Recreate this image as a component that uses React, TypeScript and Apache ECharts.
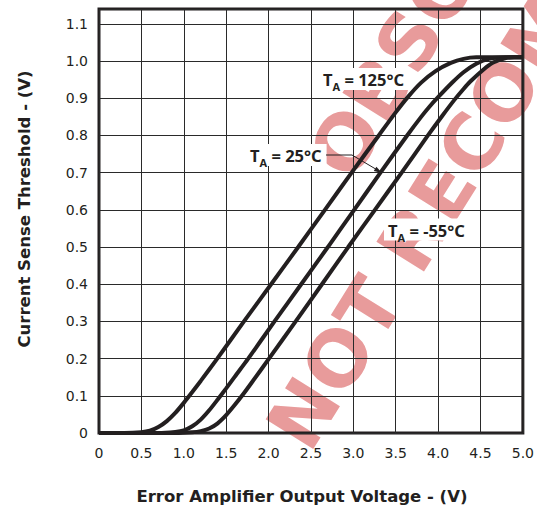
import React, { useEffect, useRef } from 'react';
import * as echarts from 'echarts';

// ---- Tick labels ----
const xTickLabels = ['0', '0.5', '1.0', '1.5', '2.0', '2.5', '3.0', '3.5', '4.0', '4.5', '5.0'];
const yTickLabels = ['0', '0.1', '0.2', '0.3', '0.4', '0.5', '0.6', '0.7', '0.8', '0.9', '1.0', '1.1'];

// ---- Series: Error Amplifier Output Voltage (V) vs Current Sense Threshold (V) ----
const t125Volts = [0, 0.3, 0.5, 0.6, 0.7, 0.8, 0.9, 1.0, 1.1, 1.2, 1.395, 1.71, 2.03, 2.35, 2.665, 2.98, 3.3, 3.5, 3.65, 3.8, 3.97, 4.15, 4.3, 4.45, 5.0];
const t125Threshold = [0, 0, 0.002, 0.006, 0.016, 0.032, 0.054, 0.081, 0.11, 0.14, 0.2, 0.3, 0.4, 0.5, 0.6, 0.7, 0.8, 0.862, 0.905, 0.942, 0.973, 0.995, 1.006, 1.01, 1.01];

const t25Volts = [0, 0.7, 0.9, 1.0, 1.1, 1.2, 1.3, 1.4, 1.5, 1.6, 1.76, 2.07, 2.385, 2.7, 3.01, 3.32, 3.635, 3.8, 3.9, 4.0, 4.17, 4.3, 4.45, 4.6, 4.8, 5.0];
const t25Threshold = [0, 0, 0.003, 0.007, 0.018, 0.036, 0.061, 0.09, 0.12, 0.151, 0.2, 0.3, 0.4, 0.5, 0.6, 0.7, 0.8, 0.85, 0.878, 0.903, 0.943, 0.97, 0.993, 1.006, 1.01, 1.01];

const tm55Volts = [0, 0.9, 1.1, 1.2, 1.3, 1.4, 1.5, 1.6, 1.7, 1.8, 2.005, 2.32, 2.63, 2.94, 3.255, 3.57, 3.88, 4.05, 4.19, 4.3, 4.38, 4.54, 4.65, 4.78, 4.9, 5.0];
const tm55Threshold = [0, 0, 0.002, 0.005, 0.012, 0.026, 0.048, 0.075, 0.104, 0.135, 0.2, 0.3, 0.4, 0.5, 0.6, 0.7, 0.8, 0.853, 0.895, 0.925, 0.945, 0.978, 0.996, 1.007, 1.01, 1.01];

const seriesNames = ['TA = 125°C', 'TA = 25°C', 'TA = -55°C'];
const labelTemps = ['125°C', '25°C', '-55°C'];
const watermarkLines = ['OBSOLETE', 'NOT RECOMMENDED'];

const INK = '#231f20';
const PINK = '#e89b9b';
const WATERMARK_ROTATION = (58 * Math.PI) / 180;

const zip = (xs: number[], ys: number[]) => xs.map((x, i) => [x, ys[i]]);

const tickFormatter = (labels: string[], step: number) => (v: number) => {
  const i = Math.round(v / step);
  if (Math.abs(v - i * step) > 1e-6 || i >= labels.length) return '';
  return labels[i];
};

const labelText = (temp: string, x: number, y: number) => ({
  type: 'text',
  z: 30,
  x,
  y,
  style: {
    text: `{m|T}{s|A}{m| = ${temp}}`,
    rich: {
      m: { fontSize: 16.5, fontWeight: 'bold', fontFamily: 'Noto Sans', fill: INK, lineHeight: 16, verticalAlign: 'top' },
      s: { fontSize: 11, fontWeight: 'bold', fontFamily: 'Noto Sans', fill: INK, lineHeight: 10, verticalAlign: 'top', padding: [10, 0, 0, 0] },
    },
    backgroundColor: '#ffffff',
    padding: [3, 5, 3, 4],
    align: 'left',
    verticalAlign: 'top',
    textAlign: 'left',
    textVerticalAlign: 'top',
  },
});

const watermark = (text: string, x: number, y: number) => ({
  type: 'text',
  z: -10,
  x,
  y,
  rotation: WATERMARK_ROTATION,
  silent: true,
  style: {
    text,
    fill: PINK,
    fontFamily: 'DejaVu Sans',
    fontWeight: 'bold',
    fontSize: 77,
    align: 'left',
    verticalAlign: 'middle',
    textAlign: 'left',
    textVerticalAlign: 'middle',
  },
});

export default function App() {
  const ref = useRef<HTMLDivElement>(null);

  useEffect(() => {
    const chart = echarts.init(ref.current!, null, { renderer: 'svg' });
    const option: any = {
      animation: false,
      backgroundColor: '#ffffff',
      grid: {
        left: 99,
        right: 11,
        top: 9,
        bottom: 75,
        show: true,
        borderColor: INK,
        borderWidth: 3,
        z: 3,
      },
      xAxis: {
        type: 'value',
        min: 0,
        max: 5,
        interval: 0.5,
        z: 3,
        name: 'Error Amplifier Output Voltage - (V)',
        nameLocation: 'middle',
        nameGap: 55,
        nameTextStyle: { fontFamily: 'DejaVu Sans', fontWeight: 'bold', fontSize: 16.5, color: INK, padding: [0, 18, 0, 0] },
        axisLine: { show: false },
        axisTick: { show: false },
        splitLine: { show: true, lineStyle: { color: '#2a2a2a', width: 1 } },
        axisLabel: { margin: 13, fontFamily: 'DejaVu Sans', fontSize: 14, color: INK, formatter: tickFormatter(xTickLabels, 0.5) },
      },
      yAxis: {
        type: 'value',
        min: 0,
        max: 1.14,
        interval: 0.1,
        z: 3,
        name: 'Current Sense Threshold - (V)',
        nameLocation: 'middle',
        nameGap: 66,
        nameTextStyle: { fontFamily: 'DejaVu Sans', fontWeight: 'bold', fontSize: 16.5, color: INK, padding: [0, 0, 0, 24] },
        axisLine: { show: false },
        axisTick: { show: false },
        splitLine: { show: true, lineStyle: { color: '#2a2a2a', width: 1 } },
        axisLabel: { margin: 11, showMaxLabel: false, fontFamily: 'DejaVu Sans', fontSize: 14, color: INK, formatter: tickFormatter(yTickLabels, 0.1) },
      },
      series: [
        { name: seriesNames[0], data: zip(t125Volts, t125Threshold) },
        { name: seriesNames[1], data: zip(t25Volts, t25Threshold) },
        { name: seriesNames[2], data: zip(tm55Volts, tm55Threshold) },
      ].map((s) => ({
        ...s,
        type: 'line',
        z: 10,
        showSymbol: false,
        smooth: 0.25,
        lineStyle: { color: INK, width: 4 },
        itemStyle: { color: INK },
        emphasis: { disabled: true },
      })),
      graphic: [
        watermark(watermarkLines[1], 287, 441),
        watermark(watermarkLines[0], 329, 170),
        labelText(labelTemps[0], 319, 68),
        labelText(labelTemps[1], 246, 144),
        labelText(labelTemps[2], 384, 218.5),
        {
          type: 'polyline',
          z: 30,
          shape: { points: [[326, 155], [352, 155], [377, 169.8]] },
          style: { stroke: INK, lineWidth: 1, fill: null },
        },
        {
          type: 'polygon',
          z: 30,
          shape: { points: [[382, 173], [373.8, 171], [376.4, 166.8]] },
          style: { fill: INK },
        },
      ],
    };
    chart.setOption(option);
    return () => chart.dispose();
  }, []);

  return (
    <div
      ref={ref}
      style={{ position: 'fixed', left: 0, top: 0, width: 537, height: 510, background: '#ffffff' }}
    />
  );
}
